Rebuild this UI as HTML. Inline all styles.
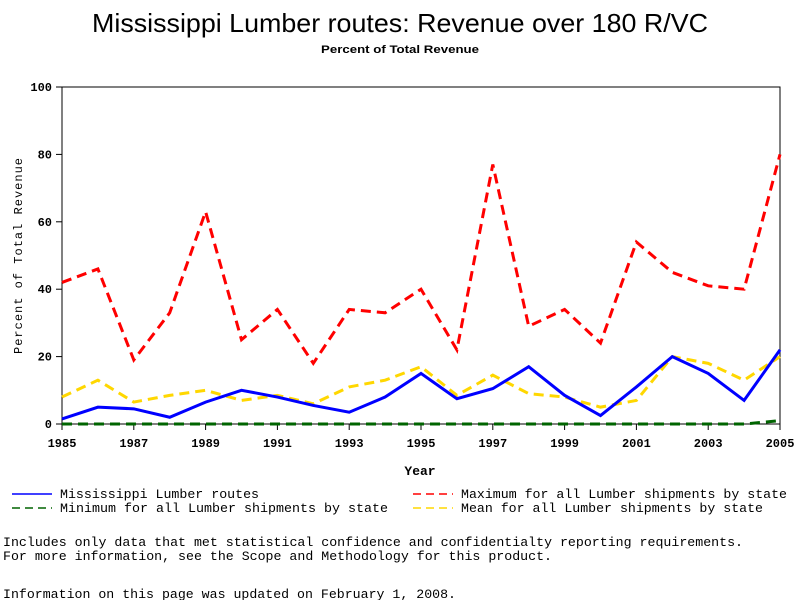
<!DOCTYPE html>
<html><head><meta charset="utf-8"><style>
body{margin:0;background:#fff;}
svg text{font-family:"Liberation Mono",monospace;}
</style></head><body>
<svg width="800" height="600" xmlns="http://www.w3.org/2000/svg">
<text x="92" y="32" textLength="616" lengthAdjust="spacingAndGlyphs" font-size="26" style="font-family:'Liberation Sans',sans-serif">Mississippi Lumber routes: Revenue over 180 R/VC</text>
<text x="321" y="53" textLength="158" lengthAdjust="spacingAndGlyphs" font-size="11" font-weight="bold" style="font-family:'Liberation Sans',sans-serif">Percent of Total Revenue</text>
<rect x="62" y="87" width="718" height="337" fill="none" stroke="#000"/>
<g id="ticks"></g>
<g id="series"></g>
<text x="420" y="475" text-anchor="middle" font-size="13" font-weight="bold">Year</text>
<text transform="translate(22,354) rotate(-90)" textLength="196" lengthAdjust="spacing" font-size="12">Percent of Total Revenue</text>
<g font-size="13">
<g><line x1="12" y1="494" x2="52" y2="494" stroke="#0000ff" stroke-width="1.5"/><text x="60" y="498" textLength="199" lengthAdjust="spacingAndGlyphs">Mississippi Lumber routes</text></g>
<g><line x1="12" y1="508" x2="52" y2="508" stroke="#006400" stroke-width="1.5" stroke-dasharray="8,5"/><text x="60" y="512" textLength="328" lengthAdjust="spacingAndGlyphs">Minimum for all Lumber shipments by state</text></g>
<g><line x1="413" y1="494" x2="453" y2="494" stroke="#ff0000" stroke-width="1.5" stroke-dasharray="8,5"/><text x="461" y="498" textLength="326" lengthAdjust="spacingAndGlyphs">Maximum for all Lumber shipments by state</text></g>
<g><line x1="413" y1="508" x2="453" y2="508" stroke="#ffd700" stroke-width="1.5" stroke-dasharray="8,5"/><text x="461" y="512" textLength="302" lengthAdjust="spacingAndGlyphs">Mean for all Lumber shipments by state</text></g>
</g>
<g font-size="13">
<text x="3" y="546" textLength="740" lengthAdjust="spacingAndGlyphs">Includes only data that met statistical confidence and confidentialty reporting requirements.</text>
<text x="3" y="560" textLength="549" lengthAdjust="spacingAndGlyphs">For more information, see the Scope and Methodology for this product.</text>
<text x="3" y="598" textLength="453" lengthAdjust="spacingAndGlyphs">Information on this page was updated on February 1, 2008.</text>
</g>
</svg>
<script>
const years=[1985,1986,1987,1988,1989,1990,1991,1992,1993,1994,1995,1996,1997,1998,1999,2000,2001,2002,2003,2004,2005];
const msValues=[1.5,5,4.5,2,6.5,10,8,5.5,3.5,8,15,7.5,10.5,17,8.5,2.5,11,20,15,7,22];
const maxValues=[42,46,19,33,63,25,34,18,34,33,40,22,77,29,34,24,54,45,41,40,80];
const minValues=[0,0,0,0,0,0,0,0,0,0,0,0,0,0,0,0,0,0,0,0,1];
const meanValues=[8,13,6.5,8.5,10,7,8.5,6,11,13,17,8.5,14.5,9,8,5,7,20,18,13,20];
const yTicks=[0,20,40,60,80,100];
const xTicks=[1985,1987,1989,1991,1993,1995,1997,1999,2001,2003,2005];
const NS="http://www.w3.org/2000/svg";
const xS=y=>62+(y-1985)*(718/20);
const yS=v=>424-v*3.37;
const tg=document.getElementById('ticks');
yTicks.forEach(t=>{
 const l=document.createElementNS(NS,'line');l.setAttribute('x1',56);l.setAttribute('x2',62);l.setAttribute('y1',yS(t));l.setAttribute('y2',yS(t));l.setAttribute('stroke','#000');
 
 
 tg.appendChild(l);
 const tx=document.createElementNS(NS,'text');tx.setAttribute('x',52);tx.setAttribute('y',yS(t)+4);tx.setAttribute('text-anchor','end');tx.setAttribute('font-size','12');tx.setAttribute('font-weight','bold');tx.textContent=t;
 
 
 tg.appendChild(tx);
});
xTicks.forEach(t=>{
 const l=document.createElementNS(NS,'line');l.setAttribute('x1',xS(t));l.setAttribute('x2',xS(t));l.setAttribute('y1',424);l.setAttribute('y2',430);l.setAttribute('stroke','#000');
 
 
 tg.appendChild(l);
 const tx=document.createElementNS(NS,'text');tx.setAttribute('x',xS(t));tx.setAttribute('y',447);tx.setAttribute('text-anchor','middle');tx.setAttribute('font-size','12');tx.setAttribute('font-weight','bold');tx.textContent=t;
 
 
 tg.appendChild(tx);
});
const sg=document.getElementById('series');
function line(vals,color,dash,name){
 const p=document.createElementNS(NS,'polyline');
 p.setAttribute('points',vals.map((v,i)=>xS(years[i])+','+yS(v)).join(' '));
 p.setAttribute('fill','none');p.setAttribute('stroke',color);p.setAttribute('stroke-width','3');
 if(dash)p.setAttribute('stroke-dasharray',dash);
 
 
 sg.appendChild(p);
}
line(minValues,'#006400','10,6','minimum-line');
line(meanValues,'#ffd700','10,6','mean-line');
line(maxValues,'#ff0000','10,6','maximum-line');
line(msValues,'#0000ff',null,'mississippi-line');
</script>
</body></html>
